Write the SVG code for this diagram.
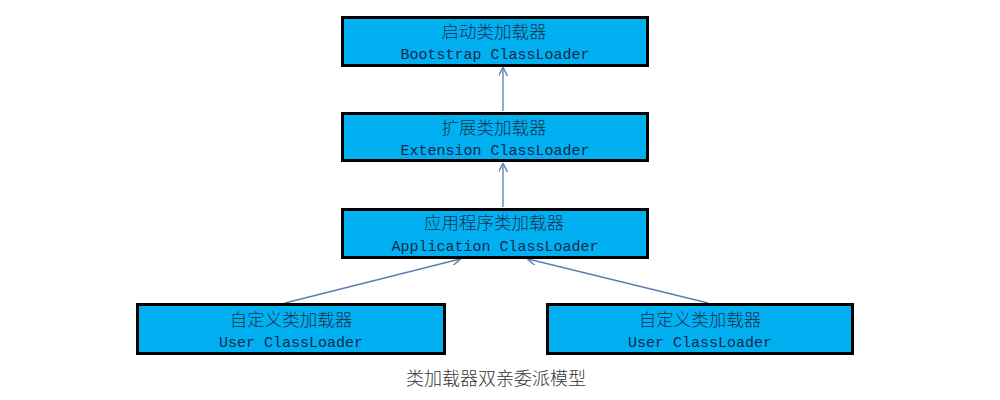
<svg xmlns="http://www.w3.org/2000/svg" width="1000" height="400" viewBox="0 0 1000 400">
<defs>
<style>
.box{fill:#00B0F0;stroke:#000;stroke-width:3}
.cn{font-family:"Noto Sans CJK SC",sans-serif;font-size:17.5px;fill:#1B3050;text-anchor:middle;font-weight:300}
.en{font-family:"Liberation Mono",monospace;font-size:15px;fill:#13294B;text-anchor:middle}
.edge{stroke:#5A7FB0;stroke-width:1.3;fill:none;marker-end:url(#ah)}
.cap{font-family:"Noto Sans CJK SC",sans-serif;font-size:18px;fill:#333;text-anchor:middle;font-weight:300}
</style>
<marker id="ah" viewBox="0 0 10 10" refX="9" refY="5" markerWidth="9" markerHeight="9" markerUnits="userSpaceOnUse" orient="auto">
<path d="M0,0 L10,5 L0,10" fill="none" stroke="#5A7FB0" stroke-width="1.5"/>
</marker>
</defs>
<rect width="1000" height="400" fill="#fff"/>
<g id="connectors">
<line class="edge" x1="503" y1="111" x2="503" y2="68"/>
<line class="edge" x1="503" y1="207" x2="503" y2="164"/>
<line class="edge" x1="285" y1="303" x2="460" y2="259"/>
<line class="edge" x1="708" y1="303" x2="528" y2="259"/>
</g>
<g id="bootstrap">
<rect class="box" x="342.5" y="17.5" width="305" height="48"/>
<text class="cn" x="494" y="38">启动类加载器</text>
<text class="en" x="495" y="59">Bootstrap ClassLoader</text>
</g>
<g id="extension">
<rect class="box" x="342.5" y="113.5" width="305" height="47"/>
<text class="cn" x="494" y="134">扩展类加载器</text>
<text class="en" x="495" y="155">Extension ClassLoader</text>
</g>
<g id="application">
<rect class="box" x="342.5" y="209.5" width="305" height="48"/>
<text class="cn" x="494" y="229">应用程序类加载器</text>
<text class="en" x="495" y="251">Application ClassLoader</text>
</g>
<g id="user1">
<rect class="box" x="137.5" y="304.5" width="307" height="49"/>
<text class="cn" x="291" y="326">自定义类加载器</text>
<text class="en" x="291" y="347">User ClassLoader</text>
</g>
<g id="user2">
<rect class="box" x="547.5" y="304.5" width="305" height="49"/>
<text class="cn" x="700" y="326">自定义类加载器</text>
<text class="en" x="700" y="347">User ClassLoader</text>
</g>
<text class="cap" x="496" y="385">类加载器双亲委派模型</text>
</svg>
